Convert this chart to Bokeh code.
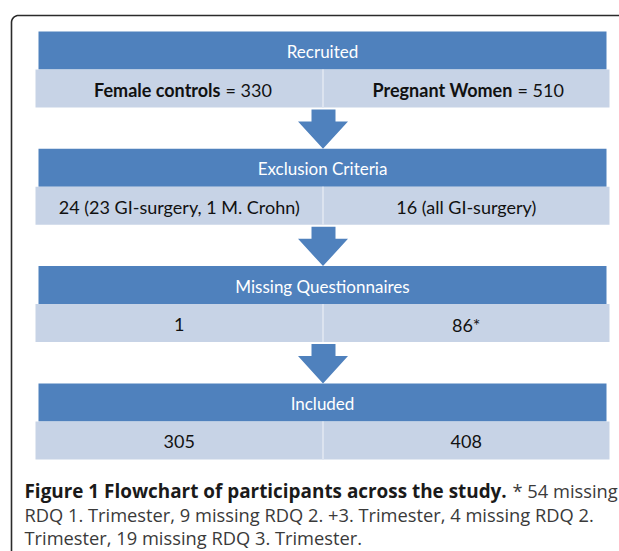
import numpy as np
from bokeh.plotting import figure
from bokeh.models import Range1d
from bokeh.core.properties import value
from bokeh.embed import file_html
from bokeh.resources import INLINE

# ---- data ----
stages = ["Recruited", "Exclusion Criteria", "Missing Questionnaires", "Included"]
left_values = ["= 330", "24 (23 GI-surgery, 1 M. Crohn)", "1", "305"]
right_values = ["= 510", "16 (all GI-surgery)", "86*", "408"]
left_group = "Female controls"
right_group = "Pregnant Women"
caption_bold = "Figure 1 Flowchart of participants across the study."
caption_rest = "* 54 missing"
caption_lines = [
    "RDQ 1. Trimester, 9 missing RDQ 2. +3. Trimester, 4 missing RDQ 2.",
    "Trimester, 19 missing RDQ 3. Trimester.",
]

# ---- style / layout ----
BLUE = "#4F81BD"
LIGHT = "#C7D3E6"
DIV = "#DCE3EF"
BOX_FONT = value("Lato")
CAP_FONT = value("Open Sans")

W, H = 619, 551
p = figure(width=W, height=H, x_range=Range1d(0, W), y_range=Range1d(H, 0),
           output_backend="svg", toolbar_location=None, min_border=0)
p.axis.visible = False
p.grid.visible = False
p.outline_line_color = None
p.background_fill_color = "white"

# outer frame (top-left rounded corner, open to right/bottom)
fx, fy, r = 11, 15, 7
ang = np.linspace(np.pi, 1.5 * np.pi, 12)
cx = list(fx + r + r * np.cos(ang))
cy = list(fy + r + r * np.sin(ang))
p.line(x=[fx] + cx + [W + 5], y=[H + 5] + cy + [fy],
       line_color="#2b2b2b", line_width=1.6)

top0, step, hh, rh = 31, 117.3, 38, 38
hl, hr = 38, 606
rl, rr = 35, 609
mid = 322.5
tops = [top0 + i * step for i in range(len(stages))]

# headers
p.quad(left=[hl] * len(stages), right=[hr] * len(stages),
       top=tops, bottom=[t + hh for t in tops], fill_color=BLUE, line_color=None)
# rows
p.quad(left=[rl] * len(stages), right=[rr] * len(stages),
       top=[t + hh for t in tops], bottom=[t + hh + rh for t in tops],
       fill_color=LIGHT, line_color=None)
p.segment(x0=[mid] * len(stages), x1=[mid] * len(stages),
          y0=[t + hh for t in tops], y1=[t + hh + rh for t in tops],
          line_color=DIV, line_width=2)

# arrows
xs, ys = [], []
for t in tops[:-1]:
    s0 = t + hh + rh + 2
    h0 = t + 90
    tip = t + step
    xs.append([311, 335, 335, 347.5, mid, 297.5, 311])
    ys.append([s0, s0, h0, h0, tip, h0, h0])
p.patches(xs=xs, ys=ys, fill_color=BLUE, line_color=None)

# header texts
p.text(x=[322] * len(stages), y=[t + hh / 2 + 1 for t in tops], text=stages,
       text_color="white", text_font=BOX_FONT, text_font_size="17px",
       text_align="center", text_baseline="middle")

# row texts
rows_y = [t + hh + rh / 2 + 1.5 for t in tops]
p.text(x=[220, 512], y=[rows_y[0]] * 2, text=[left_group, right_group],
       text_color="#111111", text_font=BOX_FONT, text_font_size="18px",
       text_font_style="bold", text_align="right", text_baseline="middle")
p.text(x=[225, 517], y=[rows_y[0]] * 2, text=[left_values[0], right_values[0]],
       text_color="#111111", text_font=BOX_FONT, text_font_size="18px",
       text_align="left", text_baseline="middle")
lc = (rl + mid) / 2
rc = (mid + rr) / 2
p.text(x=[lc] * 3 + [rc] * 3, y=rows_y[1:] * 2,
       text=left_values[1:] + right_values[1:],
       text_color="#111111", text_font=BOX_FONT, text_font_size="18px",
       text_align="center", text_baseline="middle")

# caption
p.text(x=[24], y=[490], text=[caption_bold], text_color="#1a1a1a",
       text_font=CAP_FONT, text_font_size="18.9px", text_font_style="bold",
       text_align="left", text_baseline="alphabetic")
p.text(x=[512], y=[490], text=[caption_rest], text_color="#3a3a3a",
       text_font=CAP_FONT, text_font_size="18.3px",
       text_align="left", text_baseline="alphabetic")
p.text(x=[24, 24], y=[514, 537], text=caption_lines, text_color="#3a3a3a",
       text_font=CAP_FONT, text_font_size="18.3px",
       text_align="left", text_baseline="alphabetic")

open("out.html", "w").write(file_html(p, INLINE))
